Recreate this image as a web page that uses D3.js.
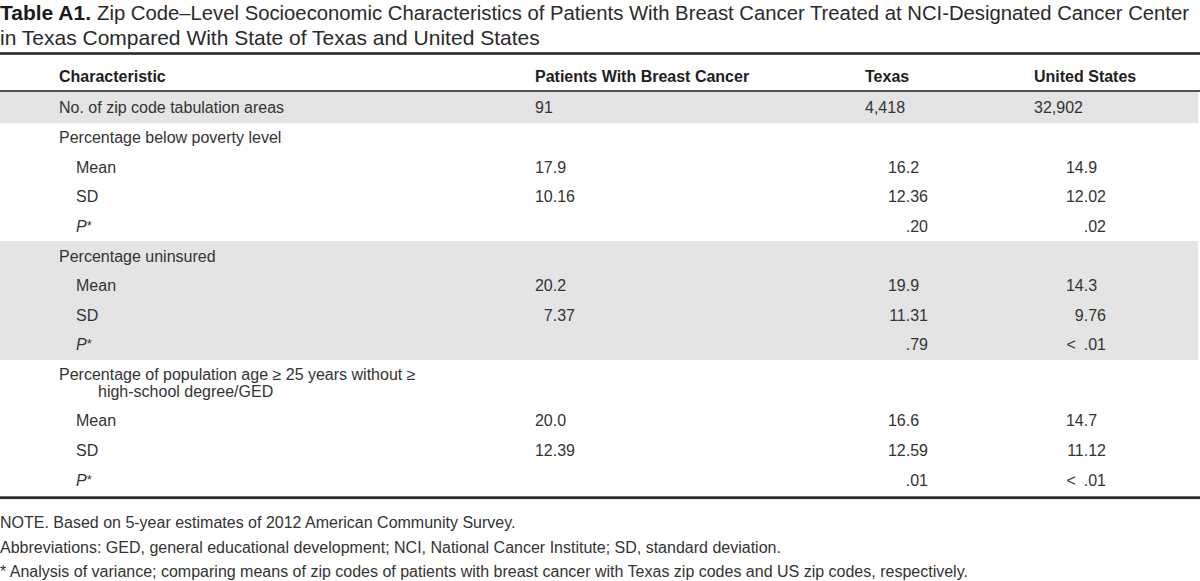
<!DOCTYPE html>
<html>
<head>
<meta charset="utf-8">
<script src="https://cdn.jsdelivr.net/npm/d3@7"></script>
<style>
  html, body { margin: 0; padding: 0; background: #fff; }
  svg { display: block; font-family: "Liberation Sans", Arial, Helvetica, sans-serif; }
</style>
</head>
<body>
<div id="chart"></div>
<script>
// ---------- data ----------
const titleBold = "Table A1.";
const titleLines = [
  "Zip Code\u2013Level Socioeconomic Characteristics of Patients With Breast Cancer Treated at NCI-Designated Cancer Center",
  "in Texas Compared With State of Texas and United States"
];
const columns = ["Characteristic", "Patients With Breast Cancer", "Texas", "United States"];
const countLabel = "No. of zip code tabulation areas";
const zctaCounts = ["91", "4,418", "32,902"];
const groups = [
  ["Percentage below poverty level"],
  ["Percentage uninsured"],
  ["Percentage of population age \u2265 25 years without \u2265", "high-school degree/GED"]
];
const statLabels = ["Mean", "SD", "P*"];
const patientsMean = [17.9, 20.2, 20.0];
const patientsSD = [10.16, 7.37, 12.39];
const patientsP = ["", "", ""];
const texasMean = [16.2, 19.9, 16.6];
const texasSD = [12.36, 11.31, 12.59];
const texasP = [".20", ".79", ".01"];
const usMean = [14.9, 14.3, 14.7];
const usSD = [12.02, 9.76, 11.12];
const usP = [".02", "< .01", "< .01"];
const footnotes = [
  "NOTE. Based on 5-year estimates of 2012 American Community Survey.",
  "Abbreviations: GED, general educational development; NCI, National Cancer Institute; SD, standard deviation.",
  "* Analysis of variance; comparing means of zip codes of patients with breast cancer with Texas zip codes and US zip codes, respectively."
];

// ---------- layout ----------
const W = 1200, H = 581;
const FIG = "\u2007";
const fmtMean = v => d3.format(".1f")(v) + FIG;
const fmtSD = v => d3.format(".2f")(v);
const fmtP = v => v.replace("< ", "<\u2002");

const rowH = 29.6, twoLineH = 46.5;
const colLeft = [59, 535, 865, 1034];
const colRight = [null, 575, 928, 1106];

// build rows
const rows = [];
rows.push({kind: "count", label: [countLabel], values: zctaCounts, shade: true, h: rowH + 1});
groups.forEach((g, gi) => {
  const shade = gi === 1;
  rows.push({kind: "group", label: g, values: null, shade, h: g.length > 1 ? twoLineH : rowH});
  const stats = [
    [fmtMean(patientsMean[gi]), fmtMean(texasMean[gi]), fmtMean(usMean[gi])],
    [fmtSD(patientsSD[gi]), fmtSD(texasSD[gi]), fmtSD(usSD[gi])],
    [fmtP(patientsP[gi]), fmtP(texasP[gi]), fmtP(usP[gi])]
  ];
  statLabels.forEach((s, si) => {
    rows.push({kind: "stat", label: [s], values: stats[si], shade, h: rowH});
  });
});
let acc = 92;
rows.forEach(r => { r.y0 = acc; acc += r.h; r.y1 = acc; });

const svg = d3.select("#chart").append("svg")
  .attr("width", W).attr("height", H)
  .attr("viewBox", `0 0 ${W} ${H}`);
svg.append("rect").attr("width", W).attr("height", H).attr("fill", "#fff");

// title
const tcol = "#2a2a2a";
svg.append("text").attr("x", 0).attr("y", 20)
  .attr("font-size", 21).attr("font-weight", "bold").attr("fill", "#1a1a1a")
  .text(titleBold);
svg.append("text").attr("x", 97).attr("y", 20)
  .attr("font-size", 19.9).attr("fill", tcol)
  .attr("textLength", 1092).attr("lengthAdjust", "spacingAndGlyphs")
  .text(titleLines[0]);
svg.append("text").attr("x", 0).attr("y", 45)
  .attr("font-size", 21).attr("fill", tcol).text(titleLines[1]);

// shaded bands
svg.selectAll("rect.band").data(rows.filter(r => r.shade)).join("rect")
  .attr("class", "band")
  .attr("x", 0).attr("width", 1198)
  .attr("y", r => r.y0).attr("height", r => r.h + 0.5)
  .attr("fill", "#e4e4e4");

// rules
const rule = (y, w) => svg.append("rect").attr("x", 0).attr("width", W)
  .attr("y", y - w / 2).attr("height", w).attr("fill", "#2b2b2b");
rule(53.5, 2.6);
rule(91, 1.6);
rule(rows[rows.length - 1].y1 + 3, 2.8);

// header
const hdr = svg.append("g").attr("font-weight", "bold").attr("font-size", 16).attr("fill", "#1e1e1e");
hdr.selectAll("text").data(columns).join("text")
  .attr("x", (d, i) => colLeft[i]).attr("y", 82)
  .text(d => d);

// body
const body = svg.append("g").attr("font-size", 16).attr("fill", "#333");
rows.forEach(r => {
  const cy = r.y0 + r.h / 2;
  const nLines = r.label.length;
  const lineGap = 17;
  r.label.forEach((ln, li) => {
    const x = r.kind === "stat" ? 76 : (li === 0 ? 59 : 98);
    const by = cy + 5.7 + (li - (nLines - 1) / 2) * lineGap;
    const t = body.append("text").attr("x", x).attr("y", by);
    if (ln === "P*") {
      t.append("tspan").attr("font-style", "italic").text("P");
      t.append("tspan").attr("font-size", 13).attr("dy", -2).text("*");
    } else {
      t.text(ln);
    }
  });
  if (r.values) {
    r.values.forEach((v, vi) => {
      const t = body.append("text").attr("y", cy + 5.7);
      if (r.kind === "count") {
        t.attr("x", colLeft[vi + 1]).text(v);
      } else {
        t.attr("x", colRight[vi + 1]).attr("text-anchor", "end").text(v);
      }
    });
  }
});

// footnotes
svg.append("g").attr("font-size", 16).attr("fill", "#333")
  .selectAll("text").data(footnotes).join("text")
  .attr("x", 0).attr("y", (d, i) => 528 + i * 24.5)
  .text(d => d);
</script>
</body>
</html>
